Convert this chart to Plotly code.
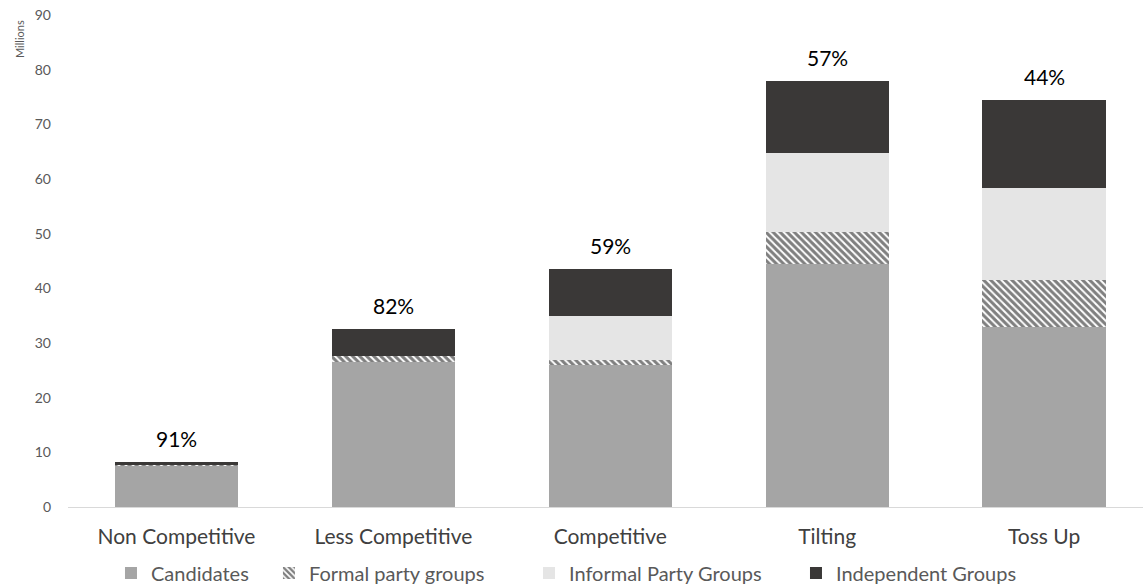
import plotly.graph_objects as go

# Spending by race competitiveness, in millions of dollars
categories = ["Non Competitive", "Less Competitive", "Competitive", "Tilting", "Toss Up"]
candidates = [7.5, 26.6, 25.9, 44.4, 33.0]
formal_party = [0.2, 1.0, 1.0, 5.9, 8.5]
informal_party = [0.0, 0.0, 8.0, 14.5, 16.8]
independent = [0.5, 4.9, 8.7, 13.1, 16.2]

y_ticks = list(range(0, 91, 10))

totals = [a + b + c + d for a, b, c, d in zip(candidates, formal_party, informal_party, independent)]
cand_share = [f"{round(100 * c / t)}%" for c, t in zip(candidates, totals)]

FONT = "Lato, 'Open Sans', sans-serif"
BAR_W = 0.568

fig = go.Figure()
fig.add_trace(go.Bar(name="Candidates", x=categories, y=candidates, width=BAR_W, legend="legend",
                     marker=dict(color="#a5a5a5", line=dict(width=0))))
fig.add_trace(go.Bar(name="Formal party groups", x=categories, y=formal_party, width=BAR_W,
                     legend="legend2",
                     marker=dict(color="white", line=dict(width=0),
                                 pattern=dict(shape="\\", fgcolor="black", bgcolor="white",
                                              size=5, solidity=0.6))))
fig.add_trace(go.Bar(name="Informal Party Groups", x=categories, y=informal_party, width=BAR_W,
                     legend="legend3", marker=dict(color="#e5e5e5", line=dict(width=0))))
fig.add_trace(go.Bar(name="Independent Groups", x=categories, y=independent, width=BAR_W,
                     legend="legend4", marker=dict(color="#3a3837", line=dict(width=0))))

for cat, tot, lab in zip(categories, totals, cand_share):
    fig.add_annotation(x=cat, y=tot, text=lab, showarrow=False, yanchor="bottom", yshift=9,
                       font=dict(family=FONT, size=21, color="#000000"))

fig.add_annotation(xref="paper", yref="paper", x=-0.0456, y=0.951, text="Millions", showarrow=False,
                   textangle=-90, xanchor="center", yanchor="middle",
                   font=dict(family=FONT, size=11, color="#595959"))


def legend_box(x):
    return dict(orientation="h", xref="container", yref="container", x=x, xanchor="left",
                y=0.0205, yanchor="middle", bgcolor="rgba(0,0,0,0)",
                font=dict(family=FONT, size=20, color="#595959"), itemwidth=30)


fig.update_layout(
    barmode="stack",
    width=1143, height=585,
    margin=dict(l=68, r=0, t=15, b=78),
    paper_bgcolor="white", plot_bgcolor="white",
    font=dict(family=FONT),
    showlegend=True,
    legend=legend_box(0.0971),
    legend2=legend_box(0.2353),
    legend3=legend_box(0.4628),
    legend4=legend_box(0.6964),
    xaxis=dict(range=[-0.5, 4.456], showgrid=False, showline=True, linecolor="#d9d9d9",
               linewidth=1, ticks="", ticklabelstandoff=11,
               tickfont=dict(family=FONT, size=21, color="#404040")),
    yaxis=dict(range=[0, 90], tickvals=y_ticks, showgrid=False, zeroline=False, showline=False,
               ticks="", ticklabelstandoff=16,
               tickfont=dict(family=FONT, size=14, color="#595959")),
)

fig.write_html("out.html")
